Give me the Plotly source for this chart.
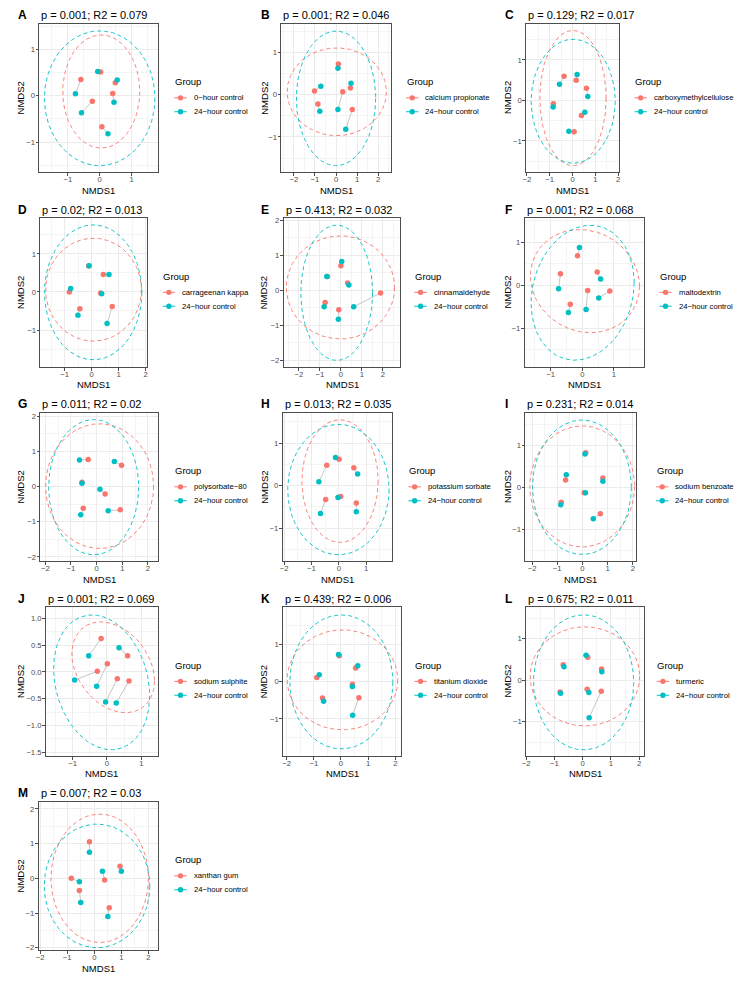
import numpy as np
import plotly.graph_objects as go

# ---------------- data ----------------
tags = list("ABCDEFGHIJKLM")
titles = ["p = 0.001; R2 = 0.079", "p = 0.001; R2 = 0.046", "p = 0.129; R2 = 0.017",
          "p = 0.02; R2 = 0.013", "p = 0.413; R2 = 0.032", "p = 0.001; R2 = 0.068",
          "p = 0.011; R2 = 0.02", "p = 0.013; R2 = 0.035", "p = 0.231; R2 = 0.014",
          "p = 0.001; R2 = 0.069", "p = 0.439; R2 = 0.006", "p = 0.675; R2 = 0.011",
          "p = 0.007; R2 = 0.03"]
treatments = ["0\u2212hour control", "calcium propionate", "carboxymethylcellulose",
              "carrageenan kappa", "cinnamaldehyde", "maltodextrin", "polysorbate\u221280",
              "potassium sorbate", "sodium benzoate", "sodium sulphite", "titanium dioxide",
              "turmeric", "xanthan gum"]
control_name = "24\u2212hour control"

trt_x = [[-0.59, -0.23, 0.03, 0.49, 0.41, 0.07],
         [-1.02, -0.86, 0.11, 0.32, 0.68, 0.77],
         [-0.37, -0.84, 0.16, 0.61, 0.39, 0.07],
         [-0.83, -0.44, 0.43, 0.33, 0.76, -0.11],
         [-0.64, -0.75, 0.00, 0.32, 1.89, -0.10],
         [-0.69, -0.38, -0.15, 0.17, 0.47, 0.87],
         [-0.33, -0.57, 0.97, 0.33, -0.52, 0.92],
         [-0.44, -0.48, 0.01, 0.07, 0.55, 0.64],
         [-0.67, -0.84, 0.13, 0.07, 0.81, 0.71],
         [-0.17, -0.28, 0.01, 0.60, 0.30, 0.64],
         [-0.89, -0.68, -0.06, 0.54, 0.42, 0.66],
         [-0.69, -0.80, 0.18, 0.16, 0.67, 0.66],
         [-0.18, -0.85, 0.38, 0.95, 0.55, -0.55]]
trt_y = [[0.35, -0.12, 0.51, 0.28, 0.05, -0.67],
         [0.09, -0.22, 0.73, 0.07, 0.16, -0.35],
         [0.60, -0.08, 0.50, 0.30, -0.37, -0.77],
         [0.00, -0.44, 0.46, -0.03, -0.38, 0.68],
         [0.39, -0.35, 0.70, 0.21, -0.08, -0.56],
         [0.27, -0.44, 0.69, -0.12, 0.31, -0.13],
         [0.77, 0.12, 0.60, -0.21, -0.62, -0.66],
         [0.48, -0.33, 0.62, -0.26, 0.42, -0.41],
         [0.17, -0.36, 0.82, -0.13, 0.22, -0.63],
         [0.62, 0.01, 0.15, 0.30, -0.13, -0.17],
         [0.11, -0.44, 0.69, 0.36, -0.07, -0.43],
         [0.37, -0.29, 0.55, -0.22, 0.27, -0.27],
         [1.05, 0.00, -0.05, 0.35, -0.85, -0.35]]
ctl_x = [[-0.76, -0.57, -0.06, 0.55, 0.45, 0.26],
         [-0.72, -0.77, 0.09, 0.09, 0.71, 0.46],
         [-0.57, -0.85, 0.20, 0.67, 0.54, -0.16],
         [-0.78, -0.51, 0.64, 0.37, 0.57, -0.10],
         [-0.67, -0.80, 0.04, 0.38, 0.61, -0.12],
         [-0.75, -0.44, -0.09, 0.12, 0.58, 0.52],
         [-0.67, -0.57, 0.69, 0.13, -0.62, 0.45],
         [-0.73, -0.67, -0.12, -0.03, 0.69, 0.64],
         [-0.64, -0.86, 0.10, 0.12, 0.81, 0.43],
         [-0.53, -0.94, -0.30, 0.35, -0.04, 0.27],
         [-0.80, -0.64, -0.09, 0.62, 0.42, 0.43],
         [-0.66, -0.78, 0.12, 0.22, 0.68, 0.23],
         [-0.18, -0.55, 0.30, 1.00, 0.50, -0.50]]
ctl_y = [[0.04, -0.37, 0.52, 0.34, -0.14, -0.82],
         [0.20, -0.39, 0.63, -0.35, 0.27, -0.82],
         [0.40, -0.16, 0.64, 0.10, -0.29, -0.76],
         [0.09, -0.61, 0.46, -0.05, -0.83, 0.69],
         [0.39, -0.47, 0.82, 0.15, -0.47, -0.83],
         [-0.08, -0.63, 0.88, -0.56, 0.15, -0.29],
         [0.75, 0.09, 0.71, -0.08, -0.80, -0.69],
         [0.09, -0.66, 0.66, -0.28, 0.27, -0.62],
         [0.30, -0.42, 0.79, -0.13, 0.14, -0.75],
         [0.30, -0.15, -0.27, 0.45, -0.56, -0.58],
         [0.18, -0.53, 0.72, 0.42, -0.13, -0.90],
         [0.32, -0.32, 0.60, -0.30, 0.20, -0.91],
         [0.75, -0.10, 0.20, 0.20, -1.10, -0.70]]

# 95% ellipses: centre x, centre y, half-width, half-height, tilt (correlation)
ell_trt = [[0.05, 0.09, 1.21, 1.22, 0.0],
           [0.035, 0.07, 2.355, 1.04, 0.0],
           [0.02, 0.06, 1.45, 1.67, 0.0],
           [0.065, 0.06, 1.775, 1.35, 0.0],
           [-0.02, 0.08, 2.58, 1.47, 0.0],
           [0.085, 0.10, 1.725, 1.20, -0.1],
           [0.115, 0.01, 2.105, 1.77, 0.0],
           [0.045, 0.105, 1.395, 1.445, 0.0],
           [-0.01, 0.02, 2.08, 1.44, 0.0],
           [0.18, 0.085, 1.20, 0.845, -0.3],
           [0.055, 0.045, 2.035, 1.335, 0.0],
           [0.08, 0.09, 1.94, 1.20, 0.0],
           [0.20, 0.00, 1.80, 1.85, 0.0]]
ell_ctl = [[0.0, -0.055, 1.735, 1.455, 0.0],
           [0.0, -0.085, 1.88, 1.595, 0.0],
           [0.03, -0.02, 1.84, 1.53, 0.0],
           [0.055, -0.01, 1.805, 1.77, 0.0],
           [-0.20, -0.07, 1.71, 1.93, 0.0],
           [0.01, -0.17, 1.63, 1.57, 0.15],
           [-0.115, -0.02, 1.755, 1.92, 0.0],
           [-0.015, -0.095, 1.855, 1.535, 0.0],
           [-0.02, 0.0, 1.96, 1.60, 0.0],
           [-0.155, -0.195, 1.395, 1.255, -0.2],
           [0.015, -0.01, 1.895, 1.79, 0.0],
           [0.035, -0.055, 1.775, 1.635, 0.0],
           [0.10, -0.22, 1.95, 1.78, 0.0]]

# axis limits and tick steps
x_ranges = [[-1.89, 1.83], [-2.59, 2.59], [-2.03, 2.04], [-1.90, 2.05], [-2.72, 2.83],
            [-1.82, 1.95], [-2.19, 2.39], [-2.05, 1.95], [-2.26, 2.14], [-1.77, 1.48],
            [-2.13, 2.22], [-2.00, 2.17], [-2.05, 2.35]]
y_ranges = [[-1.65, 1.55], [-1.835, 1.68], [-1.77, 1.89], [-1.96, 1.93], [-2.18, 2.05],
            [-1.89, 1.56], [-2.12, 2.09], [-1.78, 1.71], [-1.76, 1.77], [-1.56, 1.20],
            [-1.98, 1.98], [-1.83, 1.76], [-2.07, 2.20]]
x_steps = [1] * 13
y_steps = [1, 1, 1, 1, 1, 1, 1, 1, 1, 0.5, 1, 1, 1]

# ---------------- layout geometry (pixels) ----------------
W, H = 741, 982
ROW = 195.5
PLOT_TOP, PLOT_BOT = 21.0, 170.0
COL_OFF = [0, 245, 490]
left_px = [35.7, 279.3, 525.7, 36.7, 281.7, 524.3, 36.7, 280.7, 525.0, 42.3, 281.0, 525.7, 35.0]
right_px = [155, 389.3, 619.3, 144, 399, 644.3, 155, 390.7, 636.7, 155, 400, 644.3, 155]
legend_px = [170, 403.3, 633.3, 158.3, 411.7, 658.3, 170, 405.7, 655, 170, 411.7, 655.7, 170]

RED, CYAN = "#F8766D", "#00BFC4"
FONT = "Liberation Sans, Arial, Helvetica, sans-serif"

fig = go.Figure()
layout = dict(width=W, height=H, margin=dict(l=0, r=0, t=0, b=0),
              paper_bgcolor="white", plot_bgcolor="white", showlegend=False,
              font=dict(family=FONT, color="black"))
annotations, shapes = [], []

t = np.linspace(0, 2 * np.pi, 240)


def ellipse(p):
    cx, cy, hx, hy, rho = p
    ex = cx + hx * np.cos(t)
    ey = cy + hy * (rho * np.cos(t) - np.sqrt(1 - rho ** 2) * np.sin(t))
    return ex, ey


def px2x(px):
    return px / W


def py2y(py):
    return 1 - py / H


def axis_style(step):
    return dict(showline=True, linecolor="#4D4D4D", linewidth=0.8, mirror=True,
                ticks="outside", ticklen=3, tickwidth=0.7, tickcolor="#4D4D4D",
                tickfont=dict(size=7.7, color="#4D4D4D", family=FONT),
                showgrid=True, gridcolor="#EBEBEB", gridwidth=0.9, zeroline=False,
                dtick=step, tick0=0,
                minor=dict(dtick=step / 2, tick0=0, showgrid=True,
                           gridcolor="#F4F4F4", gridwidth=0.6),
                fixedrange=True)


for k in range(13):
    row, col = divmod(k, 3)
    sfx = "" if k == 0 else str(k + 1)
    xa, ya = "x" + sfx, "y" + sfx
    top = row * ROW + PLOT_TOP
    bot = row * ROW + PLOT_BOT
    layout["xaxis" + sfx] = dict(axis_style(x_steps[k]),
                                 domain=[px2x(left_px[k]), px2x(right_px[k])],
                                 anchor=ya, range=x_ranges[k], ticklabelstandoff=-3)
    ycfg = dict(axis_style(y_steps[k]), domain=[py2y(bot), py2y(top)], anchor=xa,
                range=y_ranges[k], ticklabelstandoff=-1)
    if y_steps[k] < 1:
        ycfg["tickformat"] = ".1f"
    layout["yaxis" + sfx] = ycfg

    # paired segments
    sx, sy = [], []
    for a, b, c, d in zip(trt_x[k], trt_y[k], ctl_x[k], ctl_y[k]):
        sx += [a, c, None]
        sy += [b, d, None]
    fig.add_trace(go.Scatter(x=sx, y=sy, mode="lines", xaxis=xa, yaxis=ya,
                             line=dict(color="#ADADAD", width=0.7), hoverinfo="skip"))
    # ellipses
    for p, colr in ((ell_trt[k], RED), (ell_ctl[k], CYAN)):
        ex, ey = ellipse(p)
        fig.add_trace(go.Scatter(x=ex, y=ey, mode="lines", xaxis=xa, yaxis=ya,
                                 line=dict(color=colr, width=0.9, dash="4px,3px"),
                                 hoverinfo="skip"))
    # points
    fig.add_trace(go.Scatter(x=trt_x[k], y=trt_y[k], mode="markers", xaxis=xa, yaxis=ya,
                             name=treatments[k], marker=dict(color=RED, size=5.5)))
    fig.add_trace(go.Scatter(x=ctl_x[k], y=ctl_y[k], mode="markers", xaxis=xa, yaxis=ya,
                             name=control_name, marker=dict(color=CYAN, size=5.5)))

    # tag and title
    ty = row * ROW + 12.5
    annotations.append(dict(text="<b>%s</b>" % tags[k], x=px2x(COL_OFF[col] + 12), y=py2y(ty),
                            xref="paper", yref="paper", xanchor="left", yanchor="middle",
                            showarrow=False, font=dict(size=12, family=FONT)))
    annotations.append(dict(text=titles[k], x=px2x(left_px[k]), y=py2y(ty),
                            xref="paper", yref="paper", xanchor="left", yanchor="middle",
                            showarrow=False, font=dict(size=11, family=FONT)))
    # axis titles
    annotations.append(dict(text="NMDS1", x=px2x((left_px[k] + right_px[k]) / 2),
                            y=py2y(row * ROW + 188), xref="paper", yref="paper",
                            xanchor="center", yanchor="middle", showarrow=False,
                            font=dict(size=9.5, family=FONT)))
    annotations.append(dict(text="NMDS2", x=px2x(COL_OFF[col] + 16.5),
                            y=py2y((top + bot) / 2), xref="paper", yref="paper",
                            xanchor="center", yanchor="middle", textangle=-90,
                            showarrow=False, font=dict(size=9.5, family=FONT)))
    # legend
    lx = legend_px[k]
    annotations.append(dict(text="Group", x=px2x(lx), y=py2y(row * ROW + 79.3),
                            xref="paper", yref="paper", xanchor="left", yanchor="middle",
                            showarrow=False, font=dict(size=9.5, family=FONT)))
    for j, (lab, colr) in enumerate(((treatments[k], RED), (control_name, CYAN))):
        iy = row * ROW + 95.3 + 14 * j
        shapes.append(dict(type="line", xref="paper", yref="paper",
                           x0=px2x(lx + 1.5), x1=px2x(lx + 14), y0=py2y(iy), y1=py2y(iy),
                           line=dict(color=colr, width=1)))
        r = 2.7
        shapes.append(dict(type="circle", xref="paper", yref="paper",
                           x0=px2x(lx + 7.7 - r), x1=px2x(lx + 7.7 + r),
                           y0=py2y(iy + r), y1=py2y(iy - r),
                           fillcolor=colr, line=dict(width=0)))
        annotations.append(dict(text=lab, x=px2x(lx + 19), y=py2y(iy),
                                xref="paper", yref="paper", xanchor="left", yanchor="middle",
                                showarrow=False, font=dict(size=7.7, family=FONT)))

layout["annotations"] = annotations
layout["shapes"] = shapes
fig.update_layout(**layout)
fig.write_html("out.html")
